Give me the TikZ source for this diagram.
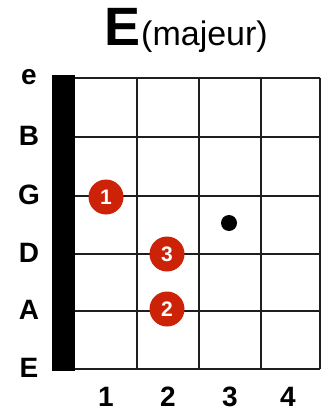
\documentclass[tikz,border=0pt]{standalone}
\usepackage{fontspec}
\setmainfont{Liberation Sans}
\definecolor{dotred}{RGB}{204,34,8}
\definecolor{gridc}{RGB}{30,30,30}
\begin{document}
\begin{tikzpicture}[x=1pt,y=-1pt,
  gridline/.style={line width=1.8pt,draw=gridc},
  strlabel/.style={font=\fontsize{28}{28}\selectfont\bfseries,anchor=center},
  fretlabel/.style={font=\fontsize{28}{28}\selectfont\bfseries,anchor=center},
  finger/.style={circle,fill=dotred,minimum size=35pt,inner sep=0pt,text=white,font=\fontsize{21}{21}\selectfont\bfseries},
  mutedot/.style={circle,fill=black,minimum size=16pt,inner sep=0pt}]
\useasboundingbox (0,0) rectangle (322,414);
% title
\node[anchor=base east,inner sep=0pt,font=\fontsize{54}{54}\selectfont\bfseries] (tE) at (141,46) {E};
\node[anchor=base west,inner sep=0pt,font=\fontsize{34}{34}\selectfont] (tmaj) at (tE.base east) {(majeur)};
% strings
\foreach \y/\n in {78/e,137/B,196/G,254/D,311/A,369/E}{
  \draw[gridline] (74,\y) -- (320,\y);
  \node[strlabel] (s\n) at (29,\y-1) {\n};
}
% frets
\foreach \x in {137,199,261,320}{
  \draw[gridline] (\x,78) -- (\x,369);
}
% nut
\fill[black] (52,75) rectangle (75,371);
% fret numbers
\foreach \x/\n in {106/1,168/2,230/3,288/4}{
  \node[fretlabel] (f\n) at (\x,397) {\n};
}
% fingers
\node[finger] (d1) at (106,197) {1};
\node[finger] (d3) at (167,254) {3};
\node[finger] (d2) at (167,309) {2};
\node[mutedot] (m) at (229,223) {};
\end{tikzpicture}
\end{document}
